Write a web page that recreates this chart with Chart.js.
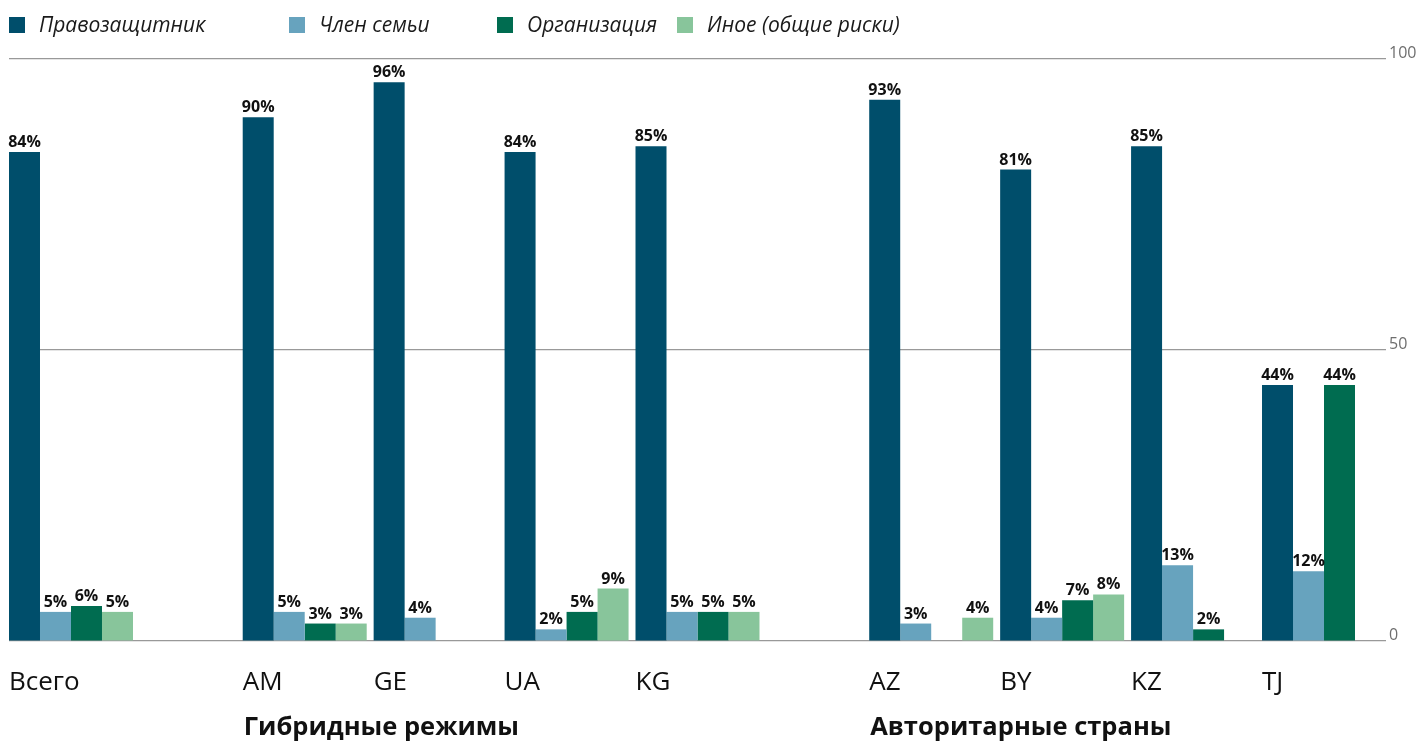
<!DOCTYPE html>
<html lang="ru">
<head>
<meta charset="utf-8">
<title>Риски по странам</title>
<script src="https://cdn.jsdelivr.net/npm/chart.js@4.4.1/dist/chart.umd.min.js"></script>
<style>
  html, body { margin: 0; padding: 0; background: #fff; }
  canvas { display: block; }
</style>
</head>
<body>
<canvas id="chart" width="1421" height="742"></canvas>
<script>
// --- данные ---
const categories = ['Всего', 'AM', 'GE', 'UA', 'KG', 'AZ', 'BY', 'KZ', 'TJ'];
const categoryGroups = ['', 'Гибридные режимы', 'Гибридные режимы', 'Гибридные режимы', 'Гибридные режимы',
  'Авторитарные страны', 'Авторитарные страны', 'Авторитарные страны', 'Авторитарные страны'];
const seriesNames = ['Правозащитник', 'Член семьи', 'Организация', 'Иное (общие риски)'];
const defenderValues = [84, 90, 96, 84, 85, 93, 81, 85, 44];
const familyValues = [5, 5, 4, 2, 5, 3, 4, 13, 12];
const orgValues = [6, 3, null, 5, 5, null, 7, 2, 44];
const otherValues = [5, 3, null, 9, 5, 4, 8, null, null];
const yTicks = [0, 50, 100];

// --- оформление ---
const FONT = '"Open Sans", "Noto Sans", sans-serif';
const COLORS = ['#004e6b', '#67a3be', '#006c50', '#88c59b'];
const GROUP_GAP = 0.785;  // доп. промежуток между группами стран (в ширинах категории)
const CAT_PCT = 0.947;
const LEGEND_X = [9, 289, 497, 677];

// позиция каждой категории на линейной оси x
const positions = [];
let shift = 0;
categories.forEach((c, i) => {
  if (i > 0 && categoryGroups[i] !== categoryGroups[i - 1]) shift += GROUP_GAP;
  positions.push(i + shift);
});

const allValues = [defenderValues, familyValues, orgValues, otherValues];
const datasets = allValues.map((vals, s) => ({
  label: seriesNames[s],
  data: vals.map((v, i) => ({ x: positions[i], y: v })),
  backgroundColor: COLORS[s],
  borderWidth: 0,
  barPercentage: 1,
  categoryPercentage: CAT_PCT,
}));

// подписи значений над столбцами
const valueLabels = {
  id: 'valueLabels',
  afterDatasetsDraw(chart) {
    const ctx = chart.ctx;
    ctx.save();
    ctx.font = `bold 16px ${FONT}`;
    ctx.fillStyle = '#111';
    ctx.textAlign = 'center';
    ctx.textBaseline = 'alphabetic';
    chart.data.datasets.forEach((ds, di) => {
      const meta = chart.getDatasetMeta(di);
      meta.data.forEach((bar, i) => {
        const v = ds.data[i].y;
        if (v == null) return;
        ctx.fillText(v + '%', bar.x, bar.y - 5);
      });
    });
    ctx.restore();
  }
};

// подписи групп стран под осью
const groupLabels = {
  id: 'groupLabels',
  afterDraw(chart) {
    const ctx = chart.ctx;
    const meta = chart.getDatasetMeta(0);
    ctx.save();
    ctx.font = `bold 25.5px ${FONT}`;
    ctx.fillStyle = '#111';
    ctx.textAlign = 'left';
    ctx.textBaseline = 'alphabetic';
    categories.forEach((c, i) => {
      const g = categoryGroups[i];
      if (!g || (i > 0 && categoryGroups[i - 1] === g)) return;
      const bar = meta.data[i];
      ctx.fillText(g, bar.x - bar.width / 2 + 1, 735);
    });
    ctx.restore();
  }
};

// легенда в верхней строке
const topLegend = {
  id: 'topLegend',
  afterDraw(chart) {
    const ctx = chart.ctx;
    ctx.save();
    ctx.font = `italic 21px ${FONT}`;
    ctx.textAlign = 'left';
    ctx.textBaseline = 'alphabetic';
    seriesNames.forEach((name, i) => {
      ctx.fillStyle = COLORS[i];
      ctx.fillRect(LEGEND_X[i], 17, 16, 16);
      ctx.fillStyle = '#1a1a1a';
      ctx.fillText(name, LEGEND_X[i] + 30, 32);
    });
    ctx.restore();
  }
};

new Chart(document.getElementById('chart'), {
  type: 'bar',
  data: { datasets },
  options: {
    responsive: false,
    animation: false,
    devicePixelRatio: 1,
    layout: { padding: { top: 59, left: 9, right: 0, bottom: 41 } },
    plugins: { legend: { display: false }, tooltip: { enabled: false } },
    scales: {
      x: {
        type: 'linear',
        offset: false,
        bounds: 'data',
        min: -CAT_PCT / 2,
        max: positions[positions.length - 1] + CAT_PCT / 2,
        afterBuildTicks: (s) => { s.ticks = positions.map((p) => ({ value: p - CAT_PCT / 2 })); },
        afterFit: (s) => { s.height = 60; s.paddingLeft = 0; s.paddingRight = 0; },
        grid: { display: false, drawTicks: false },
        border: { display: false },
        ticks: {
          align: 'start', autoSkip: false, maxRotation: 0, padding: 26,
          color: '#111', font: { family: FONT, size: 26 },
          callback: (v, i) => categories[i],
        },
      },
      y: {
        position: 'right',
        min: 0,
        max: 100,
        afterBuildTicks: (s) => { s.ticks = yTicks.map((v) => ({ value: v })); },
        afterFit: (s) => { s.width = 35; },
        grid: { color: '#999', lineWidth: 1.2, drawTicks: false },
        border: { display: false },
        ticks: { padding: 3, labelOffset: -6, color: '#6e6e6e', font: { family: FONT, size: 16 } },
      },
    },
  },
  plugins: [valueLabels, groupLabels, topLegend],
});
</script>
</body>
</html>
